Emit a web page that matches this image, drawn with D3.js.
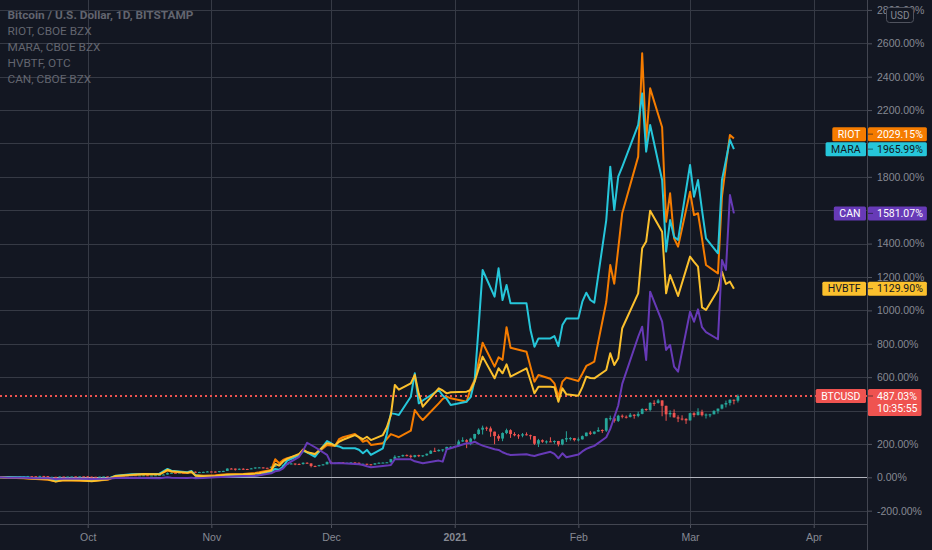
<!DOCTYPE html>
<html>
<head>
<meta charset="utf-8">
<script src="https://cdn.jsdelivr.net/npm/d3@7"></script>
<style>
  body { margin: 0; background: #131722; }
  svg { display: block; font-family: Roboto, "Liberation Sans", sans-serif; }
</style>
</head>
<body>
<div id="chart"></div>
<script>
// legend lines, top left
var legendLines = ["Bitcoin / U.S. Dollar, 1D, BITSTAMP", "RIOT, CBOE BZX", "MARA, CBOE BZX", "HVBTF, OTC", "CAN, CBOE BZX"];

// axis ticks
var pctTicks = [-200, 0, 200, 400, 600, 800, 1000, 1200, 1400, 1600, 1800, 2000, 2200, 2400, 2600, 2800];
var monthTicks = ["2020-10-01", "2020-11-01", "2020-12-01", "2021-01-01", "2021-02-01", "2021-03-01", "2021-04-01"];
var monthLabels = ["Oct", "Nov", "Dec", "2021", "Feb", "Mar", "Apr"];

// BTCUSD daily candles from 2020-09-09, USD (open = previous close)
var btcStart = "2020-09-09";
var btcFirstOpen = 10130;
var btcClose = [
  10242, 10363, 10400, 10442, 10323, 10680, 10786, 10955, 10940, 10933, 11080, 10920, 10418, 10530, 10240, 10740, 10690, 10730, 10780, 10700, 10840, 10780,
  10620, 10570, 10550, 10670, 10790, 10600, 10670, 10920, 11060, 11300, 11380, 11540, 11430, 11430, 11500, 11330, 11370, 11510, 11750, 11920, 12810, 12990, 12930, 13120, 13030, 13070, 13650, 13270, 13460, 13560, 13800,
  13760, 13550, 14030, 14150, 15590, 15580, 14830, 15480, 15330, 15300, 15700, 16280, 16320, 16070, 15960, 16730, 17660, 17800, 17820, 18680, 18700, 18420, 18370, 19160, 18730, 17150, 17140, 17720, 18180, 19700,
  18790, 19220, 19450, 18690, 19170, 19370, 19180, 18320, 18550, 18250, 18040, 18810, 19170, 19270, 19440, 21350, 22840, 23140, 23850, 23480, 22730, 23830, 23280, 23730, 24710, 26490, 26280, 27040, 27370, 28880, 28980,
  29400, 32200, 33000, 31990, 33990, 36820, 39470, 40670, 40240, 38240, 35540, 34010, 37390, 39150, 36770, 36010, 35830, 36630, 36070, 35520, 30830, 33010, 32080, 32290, 32260, 32500, 30400, 33460, 34300, 34300, 33110,
  33530, 35500, 37670, 36940, 38290, 39260, 38870, 46450, 46500, 44850, 48010, 47400, 47190, 48620, 47940, 49160, 52150, 51600, 55920, 55880, 57410, 54090, 48880, 49710, 47020, 46280, 46110, 45140,
  49590, 48440, 50350, 48370, 48750, 48880, 50970, 52380, 54880, 55850, 57800, 57240, 60124
];
var btcHigh = [
  10350, 10480, 10410, 10480, 10580, 10800, 10940, 11100, 11050, 11040, 11180, 11080, 10990, 10570, 10540, 10790, 10770, 10780, 10800, 10950, 10860, 10850,
  10950, 10660, 10600, 10690, 10800, 10800, 10680, 10950, 11100, 11490, 11430, 11700, 11560, 11550, 11620, 11540, 11410, 11530, 11830, 12030, 13220, 13180, 13030, 13160, 13340, 13250, 13780, 13850, 13640, 13660, 14080,
  13900, 13820, 14070, 14260, 15760, 15960, 15640, 15650, 15830, 15460, 15970, 16340, 16480, 16330, 16150, 16880, 17860, 18480, 18150, 18810, 18960, 18700, 18770, 19420, 19480, 18900, 17450, 17890, 18350, 19860,
  19920, 19300, 19560, 19520, 19180, 19420, 19410, 19290, 18640, 18560, 18280, 18940, 19410, 19340, 19570, 21560, 23770, 23280, 24170, 24290, 24100, 24000, 24100, 23800, 24780, 26870, 28400, 27420, 27400, 28980, 29300,
  29600, 33300, 34800, 33600, 34500, 36940, 40300, 41950, 41360, 41400, 38260, 36600, 37800, 40100, 39700, 37900, 36800, 37400, 37800, 36400, 35600, 33800, 33500, 32900, 34800, 32900, 32600, 33800, 38500, 34900, 34400,
  34700, 35900, 37700, 38700, 38300, 40900, 39700, 46700, 48100, 47300, 48600, 48800, 48200, 49700, 49000, 50500, 52600, 52500, 56300, 57500, 58300, 57500, 54200, 51300, 51900, 48300, 48300, 46500,
  49800, 50200, 52600, 51700, 49400, 49200, 51400, 52400, 54900, 57300, 58100, 58000, 61000
];
var btcLow = [
  10010, 10190, 10200, 10320, 10210, 10260, 10640, 10700, 10750, 10820, 10890, 10760, 10360, 10350, 10140, 10200, 10580, 10630, 10610, 10650, 10640, 10680,
  10430, 10370, 10510, 10510, 10620, 10540, 10560, 10530, 10830, 11050, 11280, 11200, 11330, 11280, 11260, 11220, 11310, 11350, 11430, 11680, 11900, 12700, 12730, 12890, 12900, 12800, 13060, 12940, 12990, 13120, 13440,
  13620, 13210, 13300, 13540, 14100, 15200, 14360, 14700, 14820, 15080, 15280, 15450, 15950, 15700, 15790, 15880, 16550, 17210, 17340, 17750, 18370, 17660, 18000, 18030, 18590, 16330, 16530, 16880, 17530, 18180,
  18330, 18330, 18870, 18570, 18530, 18860, 18900, 18200, 17650, 17910, 17570, 18020, 18720, 19000, 19050, 19290, 21230, 22350, 22790, 23070, 21810, 22360, 22640, 22700, 23440, 24510, 25880, 26070, 25890, 27320, 28000,
  28700, 29000, 32000, 28130, 29900, 33300, 36300, 36500, 38720, 35100, 30550, 32500, 32400, 36700, 34400, 35400, 33850, 34800, 35900, 33400, 30100, 28800, 31400, 30900, 31900, 30800, 29200, 29900, 31900, 32800, 32300,
  32300, 33400, 35400, 36200, 36600, 38200, 37400, 38100, 45000, 43800, 44200, 46400, 46300, 47000, 46200, 47100, 48900, 50900, 50700, 54000, 55500, 47700, 44900, 47100, 46900, 44100, 45100, 43000,
  45100, 47100, 48100, 47600, 46300, 47100, 48900, 49300, 51900, 53100, 54300, 55000, 56100
];

// trading days shared by the four stocks
var stockDates = [
  "2020-09-09", "2020-09-11", "2020-09-15", "2020-09-18", "2020-09-21", "2020-09-23", "2020-09-25", "2020-09-29",
  "2020-10-02", "2020-10-06", "2020-10-08", "2020-10-12", "2020-10-15", "2020-10-19", "2020-10-21", "2020-10-22", "2020-10-26", "2020-10-27", "2020-10-28", "2020-10-30",
  "2020-11-02", "2020-11-05", "2020-11-09", "2020-11-12", "2020-11-13", "2020-11-16", "2020-11-17", "2020-11-18", "2020-11-19", "2020-11-20", "2020-11-23", "2020-11-24", "2020-11-25", "2020-11-27", "2020-11-30",
  "2020-12-01", "2020-12-02", "2020-12-03", "2020-12-04", "2020-12-07", "2020-12-08", "2020-12-09", "2020-12-10", "2020-12-11", "2020-12-14", "2020-12-15", "2020-12-16", "2020-12-17", "2020-12-18", "2020-12-21", "2020-12-22", "2020-12-23", "2020-12-24", "2020-12-28", "2020-12-29", "2020-12-30", "2020-12-31",
  "2021-01-04", "2021-01-05", "2021-01-06", "2021-01-07", "2021-01-08", "2021-01-11", "2021-01-12", "2021-01-13", "2021-01-14", "2021-01-15", "2021-01-19", "2021-01-20", "2021-01-21", "2021-01-22", "2021-01-25", "2021-01-26", "2021-01-27", "2021-01-28", "2021-01-29",
  "2021-02-01", "2021-02-02", "2021-02-03", "2021-02-04", "2021-02-05", "2021-02-08", "2021-02-09", "2021-02-10", "2021-02-11", "2021-02-12", "2021-02-16", "2021-02-17", "2021-02-18", "2021-02-19", "2021-02-22", "2021-02-23", "2021-02-24", "2021-02-25", "2021-02-26",
  "2021-03-01", "2021-03-02", "2021-03-03", "2021-03-04", "2021-03-05", "2021-03-08", "2021-03-09", "2021-03-10", "2021-03-11", "2021-03-12"
];

// percent change, same order as stockDates
var riot = [
  0, -3, -5, -10, -15, -24, -18, -20,
  -22, -15, 5, 14, 18, 20, 40, 34, 26, 30, 14, 10,
  12, 18, 20, 26, 30, 44, 108, 84, 104, 115, 134, 168, 150, 134, 194,
  190, 188, 228, 240, 259, 240, 213, 223, 194, 204, 230, 259, 250, 240, 279, 403, 370, 343, 443, 470, 483, 473,
  453, 533, 583, 690, 806, 663, 719, 703, 899, 776, 752, 662, 573, 613, 590, 563, 483, 573, 597,
  577, 620, 667, 680, 693, 1050, 1272, 1160, 1370, 1582, 1921, 2540, 2011, 2330, 2097, 1531, 1701, 1432, 1382,
  1711, 1571, 1582, 1430, 1272, 1222, 1681, 1870, 2051, 2029.15
];
var mara = [
  0, 2, 0, -5, -8, -20, -12, -14,
  -18, -10, 10, 18, 20, 22, 50, 40, 30, 38, 12, 5,
  4, 8, 6, 10, 14, 34, 50, 45, 64, 100, 130, 159, 150, 123, 217,
  204, 190, 185, 174, 174, 165, 144, 164, 134, 174, 260, 383, 380, 373, 483, 623, 443, 460, 523, 490, 470, 433,
  453, 480, 580, 900, 1242, 1082, 1252, 1062, 1152, 1042, 1042, 882, 782, 832, 832, 846, 786, 912, 952,
  952, 1052, 1106, 1062, 1046, 1541, 1861, 1601, 1801, 1860, 2111, 2300, 1951, 2111, 1781, 1352, 1541, 1441, 1422,
  1871, 1681, 1781, 1600, 1432, 1342, 1781, 1900, 2021, 1965.99
];
var hvbtf = [
  0, -2, -4, -8, -12, -26, -16, -18,
  -24, -12, 8, 16, 20, 18, 45, 36, 28, 34, 10, 6,
  8, 16, 18, 22, 24, 40, 80, 70, 95, 110, 140, 164, 150, 140, 204,
  200, 190, 213, 225, 253, 240, 228, 243, 223, 253, 300, 373, 553, 525, 563, 613, 500, 423, 533, 520, 503, 510,
  513, 523, 573, 650, 723, 593, 653, 623, 677, 603, 653, 580, 503, 543, 543, 540, 453, 533, 497,
  489, 540, 603, 595, 593, 643, 743, 673, 713, 893, 1102, 1372, 1412, 1597, 1471, 1102, 1212, 1150, 1086,
  1322, 1290, 1262, 1018, 1002, 1122, 1232, 1158, 1172, 1129.90
];
var can = [
  0, -2, -3, -5, -6, -10, -8, -8,
  -10, -8, -4, -2, -4, -6, 0, -2, -4, -2, -6, -4,
  0, 4, 8, 10, 12, 24, 36, 40, 54, 80, 123, 160, 207, 180, 134,
  84, 84, 86, 84, 80, 78, 74, 66, 60, 68, 70, 74, 108, 108, 108, 96, 90, 84, 100, 94, 168, 174,
  204, 204, 213, 200, 190, 168, 164, 150, 140, 134, 138, 132, 128, 135, 153, 140, 114, 144, 120,
  136, 155, 170, 180, 188, 240, 290, 360, 430, 560, 842, 902, 703, 1112, 932, 763, 793, 663, 633,
  992, 932, 1006, 899, 870, 827, 1302, 1242, 1691, 1581.07
];
var btcTime = "10:35:55";

var W = 932, H = 550;
var plotRight = 867, plotBottom = 524;
var bg = "#131722";
var parse = d3.utcParse("%Y-%m-%d");

var svg = d3.select("#chart").append("svg")
  .attr("width", W)
  .attr("height", H);

svg.append("rect").attr("width", W).attr("height", H).attr("fill", bg);

var x = d3.scaleUtc()
  .domain([parse("2020-10-01"), parse("2021-04-01")])
  .range([87.7, 813.7]);
var y = d3.scaleLinear()
  .domain([0, 2600])
  .range([477.3, 43.3]);

svg.append("clipPath").attr("id", "plot")
  .append("rect").attr("width", plotRight).attr("height", plotBottom);

// grid
var grid = svg.append("g");
grid.selectAll("line.h").data(pctTicks).enter().append("line")
  .attr("x1", 0).attr("x2", plotRight)
  .attr("y1", function (d) { return Math.round(y(d)) + 0.5; })
  .attr("y2", function (d) { return Math.round(y(d)) + 0.5; })
  .attr("stroke", "#363a45");
grid.selectAll("line.v").data(monthTicks).enter().append("line")
  .attr("x1", function (d) { return Math.round(x(parse(d))) + 0.5; })
  .attr("x2", function (d) { return Math.round(x(parse(d))) + 0.5; })
  .attr("y1", 0).attr("y2", plotBottom)
  .attr("stroke", "#363a45");

// zero line
svg.append("line")
  .attr("x1", 0).attr("x2", plotRight)
  .attr("y1", Math.round(y(0)) + 0.5).attr("y2", Math.round(y(0)) + 0.5)
  .attr("stroke", "#b2b5be");

var plot = svg.append("g").attr("clip-path", "url(#plot)");

// BTC candles
var base = btcClose[0];
var btcDays = d3.utcDay.range(parse(btcStart), d3.utcDay.offset(parse(btcStart), btcClose.length));
var pct = function (v) { return (v / base - 1) * 100; };
var candles = btcClose.map(function (c, i) {
  return { date: btcDays[i], open: i ? btcClose[i - 1] : btcFirstOpen, close: c, high: btcHigh[i], low: btcLow[i] };
});
var candleG = plot.selectAll("g.candle").data(candles).enter().append("g");
candleG.append("line")
  .attr("x1", function (d) { return x(d.date); })
  .attr("x2", function (d) { return x(d.date); })
  .attr("y1", function (d) { return y(pct(d.high)); })
  .attr("y2", function (d) { return y(pct(d.low)); })
  .attr("stroke", function (d) { return d.close >= d.open ? "#26a69a" : "#ef5350"; })
  .attr("stroke-width", 1);
candleG.append("rect")
  .attr("x", function (d) { return x(d.date) - 1.4; })
  .attr("width", 2.8)
  .attr("y", function (d) { return y(pct(Math.max(d.open, d.close))); })
  .attr("height", function (d) { return Math.max(1, Math.abs(y(pct(d.open)) - y(pct(d.close)))); })
  .attr("fill", function (d) { return d.close >= d.open ? "#26a69a" : "#ef5350"; });

var lastPct = pct(btcClose[btcClose.length - 1]);

// current price dotted line
plot.append("line")
  .attr("x1", 0).attr("x2", plotRight)
  .attr("y1", y(lastPct)).attr("y2", y(lastPct))
  .attr("stroke", "#ef5350")
  .attr("stroke-width", 2)
  .attr("stroke-dasharray", "2,3");

// compare lines
var series = [
  { name: "RIOT", values: riot, color: "#f57c00", text: "#ffffff" },
  { name: "MARA", values: mara, color: "#26c6da", text: "#131722" },
  { name: "HVBTF", values: hvbtf, color: "#fbc02d", text: "#131722" },
  { name: "CAN", values: can, color: "#673ab7", text: "#ffffff" }
];
var line = d3.line()
  .x(function (d, i) { return x(parse(stockDates[i])); })
  .y(function (d) { return y(d); });
plot.selectAll("path.cmp").data(series).enter().append("path")
  .attr("d", function (s) { return line(s.values); })
  .attr("fill", "none")
  .attr("stroke", function (s) { return s.color; })
  .attr("stroke-width", 2)
  .attr("stroke-linejoin", "round");

// axes
var yAxis = svg.append("g")
  .attr("transform", "translate(" + plotRight + ",0)")
  .call(d3.axisRight(y).tickValues(pctTicks).tickSize(5).tickPadding(5)
    .tickFormat(function (d) { return d.toFixed(2) + "%"; }));
var xAxis = svg.append("g")
  .attr("transform", "translate(0," + plotBottom + ")")
  .call(d3.axisBottom(x).tickValues(monthTicks.map(parse)).tickSize(4).tickPadding(6)
    .tickFormat(function (d, i) { return monthLabels[i]; }));
[yAxis, xAxis].forEach(function (a) {
  a.select(".domain").remove();
  a.selectAll(".tick line").attr("stroke", "#50535e");
  a.selectAll("text").attr("fill", "#868993").style("font-size", "10.5px").style("font-family", null);
});
xAxis.selectAll("text").filter(function (d, i) { return monthLabels[i] === "2021"; }).style("font-weight", "bold");

// axis borders
svg.append("line").attr("x1", 0).attr("x2", plotRight)
  .attr("y1", plotBottom + 0.5).attr("y2", plotBottom + 0.5).attr("stroke", "#434651");
svg.append("line").attr("x1", plotRight + 0.5).attr("x2", plotRight + 0.5)
  .attr("y1", 0).attr("y2", H).attr("stroke", "#434651");

// USD box
svg.append("rect").attr("x", 886.5).attr("y", 7.5).attr("width", 27).attr("height", 15).attr("rx", 3)
  .attr("fill", bg).attr("stroke", "#50535e");
svg.append("text").attr("x", 900).attr("y", 18.5).attr("text-anchor", "middle")
  .attr("fill", "#868993").style("font-size", "10px").text("USD");

// legend
svg.selectAll("text.legend").data(legendLines).enter().append("text")
  .attr("x", 7.5)
  .attr("y", function (d, i) { return 19 + i * 16; })
  .attr("fill", "#62656f")
  .style("font-size", "11.8px")
  .style("font-weight", function (d, i) { return i ? "normal" : "bold"; })
  .text(function (d) { return d; });

// last value tags on the price axis
var tags = series.map(function (s) {
  var v = s.values[s.values.length - 1];
  return { name: s.name, color: s.color, text: s.text, lines: [v.toFixed(2) + "%"], y: y(v) };
});
tags.push({ name: "BTCUSD", color: "#ef5350", text: "#ffffff", lines: [lastPct.toFixed(2) + "%", btcTime], y: y(lastPct) });
tags.sort(function (a, b) { return a.y - b.y; });
for (var i = tags.length - 2; i >= 0; i--) {
  if (tags[i].y > tags[i + 1].y - 15) tags[i].y = tags[i + 1].y - 15;
}

// price labels hidden under a tag, as on the price axis
yAxis.selectAll(".tick text").style("display", function (d) {
  var ty = y(d);
  var hidden = tags.some(function (t) {
    var top = t.y - 7, bottom = t.y + 7 + (t.lines.length - 1) * 13;
    return ty > top - 3 && ty < bottom + 3;
  });
  return hidden ? "none" : null;
});

tags.forEach(function (t) {
  var g = svg.append("g");
  var nameRect = g.append("rect").attr("fill", t.color).attr("rx", 1.5);
  var nameText = g.append("text").attr("y", t.y + 3.8).attr("fill", t.text)
    .style("font-size", "10.5px").text(t.name);
  var nw = nameText.node().getComputedTextLength();
  nameRect.attr("x", 866 - nw - 11).attr("y", t.y - 7).attr("width", nw + 11).attr("height", 14);
  nameText.attr("x", 866 - nw - 5.5);
  var valRect = g.append("rect").attr("fill", t.color).attr("rx", 1.5);
  var maxW = 0;
  t.lines.forEach(function (l, k) {
    var tx = g.append("text").attr("x", 877).attr("y", t.y + 3.8 + k * 12).attr("fill", t.text)
      .style("font-size", "10.5px").text(l);
    maxW = Math.max(maxW, tx.node().getComputedTextLength());
  });
  valRect.attr("x", 868).attr("y", t.y - 7).attr("width", maxW + 13)
    .attr("height", 14 + (t.lines.length - 1) * 13);
  g.append("line").attr("x1", 868).attr("x2", 873).attr("y1", t.y).attr("y2", t.y)
    .attr("stroke", "#131722").attr("stroke-opacity", 0.6);
});
</script>
</body>
</html>
